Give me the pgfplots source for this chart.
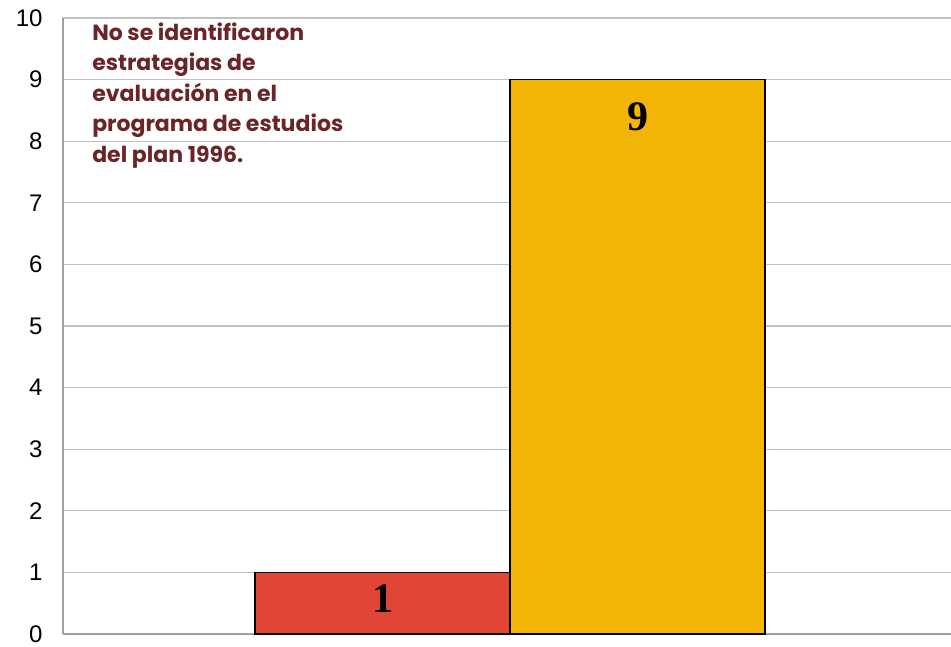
\documentclass[border=0pt]{standalone}
\usepackage{pgfplots}
\pgfplotsset{compat=1.18}
\usepackage{fontspec}
\setmainfont{Liberation Sans}
\newfontfamily\annfont{Poppins}
\newfontfamily\numfont{Liberation Serif}
\definecolor{barred}{HTML}{E04535}
\definecolor{baryel}{HTML}{F2B505}
\definecolor{anncol}{HTML}{6B2526}
\definecolor{gridc}{HTML}{C0C0C0}
\definecolor{axc}{HTML}{A0A0A0}
\begin{document}
\begin{tikzpicture}
\begin{axis}[
  scale only axis,
  width=888pt, height=616pt,
  xmin=-1.253, xmax=2.229,
  ymin=0, ymax=10,
  ytick={0,1,...,10},
  xtick=\empty,
  ymajorgrids,
  grid style={gridc, line width=1.2pt},
  axis x line*=bottom,
  axis y line*=left,
  axis line style={axc, line width=1.3pt},
  major tick length=0pt,
  /pgf/number format/assume math mode=true,
  tick label style={font=\fontsize{24}{26}\selectfont, black},
  yticklabel style={xshift=-17pt},
  clip=false,
]
\addplot[ybar, bar width=1, fill=barred, draw=black, line width=1.2pt] coordinates {(0,1)};
\addplot[ybar, bar width=1, fill=baryel, draw=black, line width=1.2pt] coordinates {(1,9)};
\node[font=\numfont\bfseries\fontsize{42}{44}\selectfont] at (axis cs:0,0.57) {1};
\node[font=\numfont\bfseries\fontsize{42}{44}\selectfont] at (axis cs:1,8.39) {9};
\node[anchor=north west, inner sep=0pt, align=left, text=anncol,
  font=\annfont\bfseries\fontsize{22}{30.5}\selectfont] at (axis cs:-1.139,9.93)
  {No se identificaron\\estrategias de\\evaluación en el\\programa de estudios\\del plan 1996.};
\end{axis}
\pgfresetboundingbox
\path[use as bounding box] ([xshift=-63pt,yshift=-12pt]current axis.south west) rectangle ([yshift=18pt]current axis.north east);
\end{tikzpicture}
\end{document}
